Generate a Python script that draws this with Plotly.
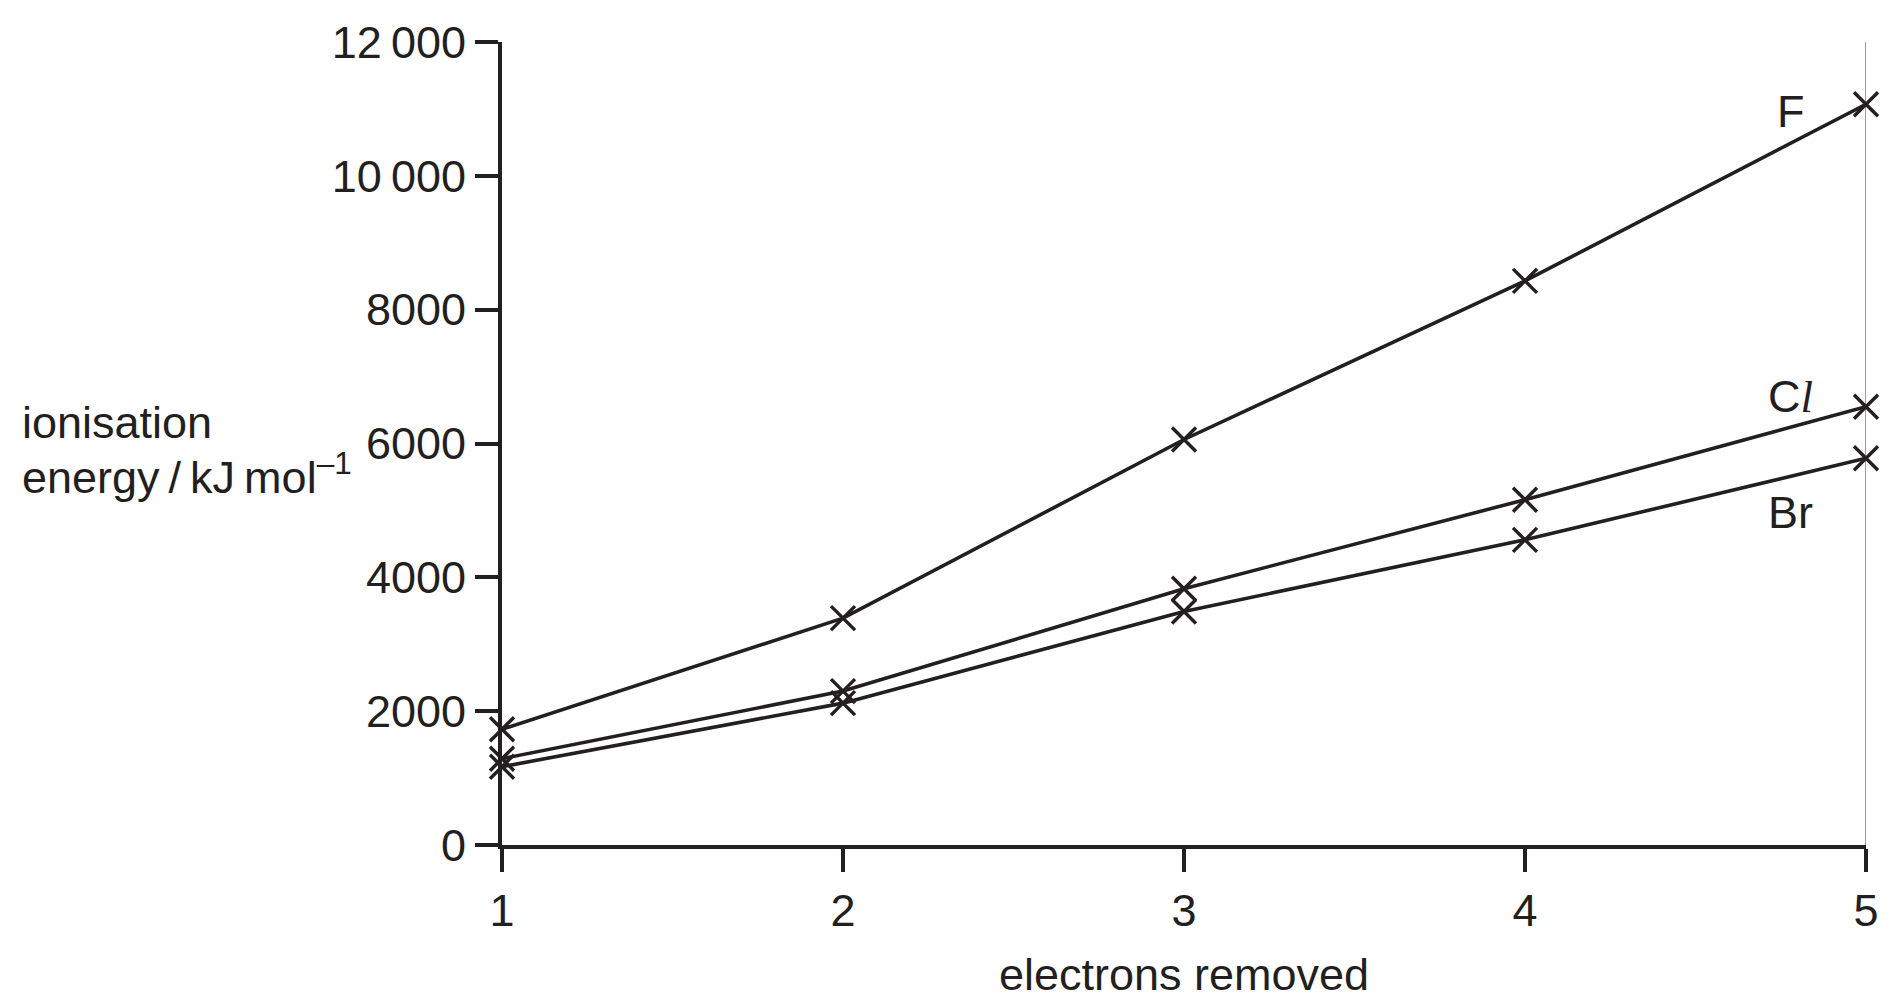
import plotly.graph_objects as go

# ---- data ----
electrons = [1, 2, 3, 4, 5]
ie_F = [1730, 3390, 6060, 8430, 11070]
ie_Cl = [1290, 2300, 3830, 5160, 6550]
ie_Br = [1170, 2120, 3490, 4560, 5780]
series_names = ["F", "C<span style='font-family:Liberation Serif;font-style:italic'>l</span>", "Br"]

y_tickvals = [0, 2000, 4000, 6000, 8000, 10000, 12000]
y_ticktext = ["0", "2000", "4000", "6000", "8000", "10\u2009000", "12\u2009000"]
x_tickvals = [1, 2, 3, 4, 5]

y_title_lines = ["ionisation", "energy\u2009/\u2009kJ\u2009mol<sup>\u20131</sup>"]
x_title = "electrons removed"

# label anchor points (data coordinates)
label_x = [4.78, 4.78, 4.78]
label_y = [10960, 6700, 4970]

INK = "#231f20"
FONT = "Liberation Sans, Arial, Helvetica, sans-serif"
FS = 45

L, R, T, B = 502, 30, 42, 154
W, H = 1896, 1004
plot_w = W - L - R
plot_h = H - T - B


def px_to_paper(px, py):
    return (px - L) / plot_w, (H - B - py) / plot_h


fig = go.Figure()
for ys in (ie_F, ie_Cl, ie_Br):
    fig.add_trace(go.Scatter(
        x=electrons, y=ys, mode="lines+markers",
        line=dict(color=INK, width=3.6),
        marker=dict(symbol="x-thin", size=24, line=dict(color=INK, width=3.4)),
        cliponaxis=False, showlegend=False, hoverinfo="skip",
    ))

for name, lx, ly in zip(series_names, label_x, label_y):
    fig.add_annotation(x=lx, y=ly, xref="x", yref="y", text=name, showarrow=False,
                       font=dict(family=FONT, size=FS, color=INK),
                       xanchor="center", yanchor="middle")

# y-axis title (horizontal, two lines, left aligned)
for line_text, py in zip(y_title_lines, [425, 477]):
    ax, ay = px_to_paper(20, py)
    fig.add_annotation(x=ax, y=ay, xref="paper", yref="paper", text=line_text,
                       showarrow=False, align="left", xanchor="left", yanchor="middle",
                       font=dict(family=FONT, size=FS, color=INK))

# thin vertical line at the right end of the x range
fig.add_shape(type="line", xref="x", yref="y",
              x0=max(x_tickvals), x1=max(x_tickvals), y0=min(y_tickvals), y1=max(y_tickvals),
              line=dict(color="#3a3a3a", width=1), layer="below")

fig.update_layout(
    width=W, height=H,
    margin=dict(l=L, r=R, t=T, b=B),
    paper_bgcolor="white", plot_bgcolor="white",
    font=dict(family=FONT, size=FS, color=INK),
    xaxis=dict(range=[1, 5], tickvals=x_tickvals, ticks="outside", ticklen=23, tickwidth=4,
               tickcolor=INK, showline=True, linewidth=4, linecolor=INK, showgrid=False,
               zeroline=False, tickfont=dict(size=FS, family=FONT, color=INK),
               title=dict(text=x_title, standoff=24,
                          font=dict(size=FS, family=FONT, color=INK))),
    yaxis=dict(range=[0, 12000], tickvals=y_tickvals, ticktext=y_ticktext, ticks="outside",
               ticklen=23, tickwidth=4, tickcolor=INK, showline=True, linewidth=4,
               linecolor=INK, showgrid=False, zeroline=False,
               tickfont=dict(size=FS, family=FONT, color=INK)),
)

fig.write_html("out.html")
